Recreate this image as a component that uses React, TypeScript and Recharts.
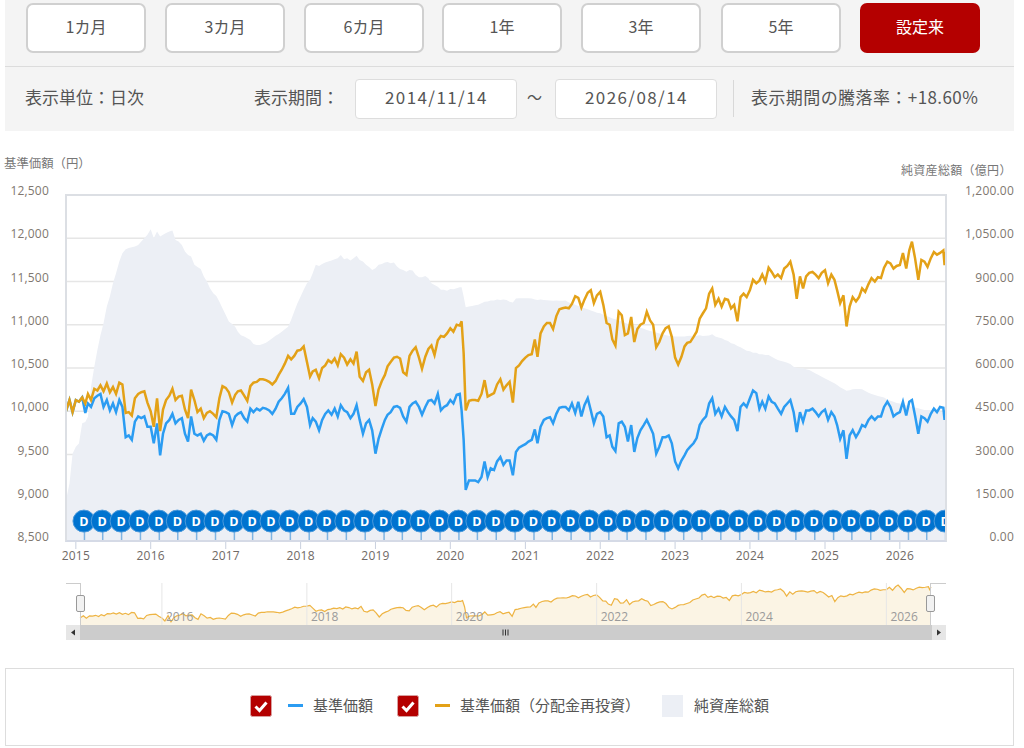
import { Area, CartesianGrid, ComposedChart, Line, ReferenceDot, ReferenceLine, XAxis, YAxis } from 'recharts'

const dates = [
  '2014-11-14', '2014-12-01', '2014-12-16',
  '2015-01-01', '2015-01-16', '2015-02-01', '2015-02-16', '2015-03-01', '2015-03-16', '2015-04-01', '2015-04-16', '2015-05-01', '2015-05-16', '2015-06-01', '2015-06-16', '2015-07-01', '2015-07-16', '2015-08-01', '2015-08-16', '2015-09-01', '2015-09-16', '2015-10-01', '2015-10-16', '2015-11-01', '2015-11-16', '2015-12-01', '2015-12-16',
  '2016-01-01', '2016-01-16', '2016-02-01', '2016-02-16', '2016-03-01', '2016-03-16', '2016-04-01', '2016-04-16', '2016-05-01', '2016-05-16', '2016-06-01', '2016-06-16', '2016-07-01', '2016-07-16', '2016-08-01', '2016-08-16', '2016-09-01', '2016-09-16', '2016-10-01', '2016-10-16', '2016-11-01', '2016-11-16', '2016-12-01', '2016-12-16',
  '2017-01-01', '2017-01-16', '2017-02-01', '2017-02-16', '2017-03-01', '2017-03-16', '2017-04-01', '2017-04-16', '2017-05-01', '2017-05-16', '2017-06-01', '2017-06-16', '2017-07-01', '2017-07-16', '2017-08-01', '2017-08-16', '2017-09-01', '2017-09-16', '2017-10-01', '2017-10-16', '2017-11-01', '2017-11-16', '2017-12-01', '2017-12-16',
  '2018-01-01', '2018-01-16', '2018-02-01', '2018-02-16', '2018-03-01', '2018-03-16', '2018-04-01', '2018-04-16', '2018-05-01', '2018-05-16', '2018-06-01', '2018-06-16', '2018-07-01', '2018-07-16', '2018-08-01', '2018-08-16', '2018-09-01', '2018-09-16', '2018-10-01', '2018-10-16', '2018-11-01', '2018-11-16', '2018-12-01', '2018-12-16',
  '2019-01-01', '2019-01-16', '2019-02-01', '2019-02-16', '2019-03-01', '2019-03-16', '2019-04-01', '2019-04-16', '2019-05-01', '2019-05-16', '2019-06-01', '2019-06-16', '2019-07-01', '2019-07-16', '2019-08-01', '2019-08-16', '2019-09-01', '2019-09-16', '2019-10-01', '2019-10-16', '2019-11-01', '2019-11-16', '2019-12-01', '2019-12-16',
  '2020-01-01', '2020-01-16', '2020-02-01', '2020-02-16', '2020-02-25', '2020-03-06', '2020-03-16', '2020-04-01', '2020-04-16', '2020-05-01', '2020-05-16', '2020-06-01', '2020-06-16', '2020-07-01', '2020-07-16', '2020-08-01', '2020-08-16', '2020-09-01', '2020-09-16', '2020-10-01', '2020-10-16', '2020-11-01', '2020-11-16', '2020-12-01', '2020-12-16',
  '2021-01-01', '2021-01-16', '2021-02-01', '2021-02-16', '2021-03-01', '2021-03-16', '2021-04-01', '2021-04-16', '2021-05-01', '2021-05-16', '2021-06-01', '2021-06-16', '2021-07-01', '2021-07-16', '2021-08-01', '2021-08-16', '2021-09-01', '2021-09-16', '2021-10-01', '2021-10-16', '2021-11-01', '2021-11-16', '2021-12-01', '2021-12-16',
  '2022-01-01', '2022-01-16', '2022-02-01', '2022-02-16', '2022-03-01', '2022-03-16', '2022-04-01', '2022-04-16', '2022-05-01', '2022-05-16', '2022-06-01', '2022-06-16', '2022-07-01', '2022-07-16', '2022-08-01', '2022-08-16', '2022-09-01', '2022-09-16', '2022-10-01', '2022-10-16', '2022-11-01', '2022-11-16', '2022-12-01', '2022-12-16',
  '2023-01-01', '2023-01-16', '2023-02-01', '2023-02-16', '2023-03-01', '2023-03-16', '2023-04-01', '2023-04-16', '2023-05-01', '2023-05-16', '2023-06-01', '2023-06-16', '2023-07-01', '2023-07-16', '2023-08-01', '2023-08-16', '2023-09-01', '2023-09-16', '2023-10-01', '2023-10-16', '2023-11-01', '2023-11-16', '2023-12-01', '2023-12-16',
  '2024-01-01', '2024-01-16', '2024-02-01', '2024-02-16', '2024-03-01', '2024-03-16', '2024-04-01', '2024-04-16', '2024-05-01', '2024-05-16', '2024-06-01', '2024-06-16', '2024-07-01', '2024-07-16', '2024-08-01', '2024-08-16', '2024-09-01', '2024-09-16', '2024-10-01', '2024-10-16', '2024-11-01', '2024-11-16', '2024-12-01', '2024-12-16',
  '2025-01-01', '2025-01-16', '2025-02-01', '2025-02-16', '2025-03-01', '2025-03-16', '2025-04-01', '2025-04-16', '2025-05-01', '2025-05-16', '2025-06-01', '2025-06-16', '2025-07-01', '2025-07-16', '2025-08-01', '2025-08-16', '2025-09-01', '2025-09-16', '2025-10-01', '2025-10-16', '2025-11-01', '2025-11-16', '2025-12-01', '2025-12-16',
  '2026-01-01', '2026-01-16', '2026-02-01', '2026-02-16', '2026-03-01', '2026-03-16', '2026-04-01', '2026-04-16', '2026-05-01', '2026-05-16', '2026-06-01', '2026-06-16', '2026-07-01', '2026-07-16', '2026-08-01', '2026-08-07', '2026-08-14',
]

const reinvested = [
  10000, 10130, 9990,
  10130, 10110, 10160, 10090, 10200, 10130, 10260, 10240, 10300, 10230, 10320, 10220, 10280, 10200, 10330, 10310, 9980, 9990, 9950, 10150, 10200, 10220, 10230, 10100,
  10000, 9820, 10150, 9770, 10020, 10130, 10180, 10260, 10130, 10170, 10180, 10020, 9920, 10250, 10130, 9990, 10030, 9920, 9980, 10000, 9970, 9930, 10150, 10290,
  10270, 10220, 10100, 10190, 10230, 10240, 10180, 10120, 10290, 10330, 10340, 10370, 10370, 10360, 10340, 10310, 10350, 10420, 10480, 10550, 10640, 10600, 10640, 10700,
  10710, 10750, 10570, 10400, 10460, 10480, 10380, 10500, 10530, 10590, 10560, 10610, 10530, 10660, 10620, 10540, 10600, 10550, 10690, 10400, 10350, 10450, 10480, 10310,
  10060, 10250, 10350, 10420, 10520, 10570, 10620, 10630, 10610, 10450, 10420, 10640, 10700, 10740, 10620, 10490, 10630, 10720, 10760, 10650, 10820, 10870, 10860, 10900,
  10960, 10920, 11000, 10990, 11040, 10670, 10010, 10120, 10130, 10130, 10120, 10200, 10360, 10170, 10190, 10210, 10310, 10370, 10250, 10300, 10340, 10100, 10500, 10530, 10580,
  10620, 10650, 10660, 10830, 10630, 10900, 10980, 11020, 11020, 10950, 11100, 11180, 11190, 11200, 11190, 11240, 11330, 11310, 11200, 11290, 11370, 11400, 11250, 11340,
  11380, 11230, 11020, 11000, 10830, 10760, 11150, 11110, 10880, 10900, 11090, 10800, 10950, 11000, 11020, 11150, 11050, 11000, 10740, 10800, 10900, 10960, 10980, 10860,
  10620, 10540, 10630, 10750, 10790, 10800, 10860, 10920, 11070, 11130, 11190, 11360, 11420, 11230, 11300, 11210, 11300, 11290, 11190, 11230, 11040, 11320, 11360, 11320,
  11400, 11520, 11480, 11510, 11580, 11500, 11660, 11610, 11550, 11580, 11540, 11650, 11680, 11730, 11580, 11300, 11560, 11420, 11560, 11600, 11610, 11580, 11540, 11600,
  11630, 11480, 11580, 11520, 11400, 11250, 11340, 10980, 11210, 11320, 11270, 11320, 11420, 11380, 11470, 11540, 11500, 11550, 11540, 11660, 11730, 11710, 11650, 11680,
  11690, 11830, 11650, 11860, 11960, 11770, 11520, 11750, 11730, 11670, 11770, 11840, 11810, 11830, 11860, 11690, 11840,
]

const navPrice = [
  10000, 10130, 9990,
  10130, 10110, 10160, 9980, 10090, 10050, 10150, 10180, 10200, 10050, 10130, 10010, 10090, 9990, 10130, 10050, 9700, 9720, 9670, 9880, 9940, 9920, 9940, 9820,
  9820, 9630, 9860, 9490, 9740, 9860, 9900, 9970, 9860, 9900, 9920, 9740, 9650, 9940, 9740, 9720, 9740, 9660, 9720, 9740, 9720, 9670, 9900, 10000,
  9990, 9970, 9840, 9940, 9970, 9990, 9920, 9880, 10030, 9990, 10030, 10010, 10040, 10030, 10010, 9970, 10030, 10110, 10150, 10200, 10270, 9970, 9970, 10050,
  10090, 10140, 10050, 9840, 9920, 9880, 9780, 9900, 9970, 10010, 9960, 10030, 9940, 10070, 10010, 9990, 9920, 9970, 10070, 9900, 9740, 9860, 9900, 9780,
  9510, 9680, 9800, 9900, 9960, 9990, 10050, 10060, 10040, 9940, 9880, 10050, 10090, 10110, 10050, 9960, 10050, 10120, 10130, 10090, 10200, 10010, 10050, 10070,
  10130, 10090, 10190, 10200, 10010, 9670, 9090, 9200, 9200, 9200, 9180, 9240, 9420, 9240, 9340, 9320, 9420, 9470, 9380, 9430, 9430, 9260, 9530, 9580, 9600,
  9620, 9650, 9670, 9790, 9630, 9820, 9900, 9920, 9930, 9860, 9970, 10040, 10050, 10050, 10010, 10090, 9980, 10110, 9940, 10070, 10150, 10010, 9860, 9970,
  9990, 9940, 9700, 9720, 9590, 9540, 9860, 9880, 9820, 9650, 9840, 9530, 9690, 9780, 9840, 9900, 9820, 9740, 9510, 9590, 9700, 9700, 9720, 9630,
  9420, 9340, 9430, 9490, 9550, 9590, 9630, 9690, 9840, 9900, 9940, 10090, 10150, 9970, 10030, 9940, 10050, 9990, 9940, 9900, 9770, 10050, 10090, 10050,
  10150, 10240, 10210, 10030, 10110, 10030, 10170, 10110, 10090, 10030, 9970, 10050, 10090, 10130, 9990, 9760, 9990, 9880, 10010, 10010, 10030, 9990, 9940, 9990,
  10020, 9900, 9990, 9940, 9840, 9680, 9780, 9450, 9720, 9780, 9700, 9760, 9840, 9820, 9900, 9940, 9900, 9940, 9940, 10050, 10110, 10050, 9940, 9970,
  9990, 10110, 9950, 10110, 10130, 9950, 9740, 9940, 9920, 9880, 9970, 10030, 9990, 10050, 10040, 9900, 10010,
]

const netAssets = [
  141, 199, 303,
  327, 338, 408, 413, 431, 535, 604, 662, 714, 755, 813, 848, 894, 929, 969, 998, 1012, 1016, 1019, 1021, 1027, 1039, 1050, 1062,
  1081, 1050, 1073, 1056, 1062, 1068, 1073, 1077, 1044, 1039, 1027, 1004, 992, 987, 958, 950, 943, 917, 900, 877, 859, 850, 830, 807,
  784, 761, 753, 743, 726, 714, 709, 703, 697, 683, 680, 680, 683, 688, 695, 703, 712, 718, 726, 734, 743, 767, 796, 824,
  848, 871, 894, 906, 929, 958, 954, 961, 966, 969, 973, 977, 981, 992, 977, 981, 973, 981, 989, 975, 969, 958, 950, 940,
  946, 958, 961, 966, 968, 963, 966, 952, 943, 940, 934, 940, 938, 923, 915, 915, 919, 911, 894, 888, 882, 871, 871, 868,
  874, 873, 877, 880, 880, 848, 811, 813, 815, 818, 819, 825, 830, 831, 834, 834, 838, 836, 838, 836, 830, 827, 841, 842, 842,
  842, 842, 841, 838, 836, 838, 836, 835, 834, 833, 834, 833, 833, 834, 827, 825, 819, 815, 811, 807, 804, 799, 796, 792,
  790, 785, 780, 776, 772, 769, 764, 761, 757, 753, 749, 746, 743, 740, 736, 732, 728, 726, 723, 720, 718, 714, 712, 711,
  709, 709, 709, 709, 711, 712, 711, 712, 714, 711, 712, 713, 717, 709, 706, 703, 697, 694, 686, 683, 676, 672, 666, 660,
  658, 653, 653, 648, 648, 645, 645, 639, 633, 628, 624, 622, 618, 614, 604, 601, 599, 599, 596, 593, 587, 581, 576, 570,
  564, 558, 552, 547, 541, 533, 527, 521, 523, 526, 527, 527, 526, 520, 514, 510, 506, 503, 500, 498, 491, 486, 483, 479,
  477, 475, 471, 468, 466, 463, 460, 457, 454, 454, 452, 452, 448, 448, 446, 445, 445,
]

const dividendDates = [
  '2015-02-12', '2015-05-12', '2015-08-12', '2015-11-12', '2016-02-12', '2016-05-12', '2016-08-12', '2016-11-12',
  '2017-02-12', '2017-05-12', '2017-08-12', '2017-11-12', '2018-02-12', '2018-05-12', '2018-08-12', '2018-11-12',
  '2019-02-12', '2019-05-12', '2019-08-12', '2019-11-12', '2020-02-12', '2020-05-12', '2020-08-12', '2020-11-12',
  '2021-02-12', '2021-05-12', '2021-08-12', '2021-11-12', '2022-02-12', '2022-05-12', '2022-08-12', '2022-11-12',
  '2023-02-12', '2023-05-12', '2023-08-12', '2023-11-12', '2024-02-12', '2024-05-12', '2024-08-12', '2024-11-12',
  '2025-02-12', '2025-05-12', '2025-08-12', '2025-11-12', '2026-02-12', '2026-05-12', '2026-08-12',
]

const yearTicks = ['2015-01-01', '2016-01-01', '2017-01-01', '2018-01-01', '2019-01-01', '2020-01-01', '2021-01-01', '2022-01-01', '2023-01-01', '2024-01-01', '2025-01-01', '2026-01-01']
const overviewTicks = ['2016-01-01', '2018-01-01', '2020-01-01', '2022-01-01', '2024-01-01', '2026-01-01']
const priceTicks = [8500, 9000, 9500, 10000, 10500, 11000, 11500, 12000, 12500]
const assetTicks = [0, 150, 300, 450, 600, 750, 900, 1050, 1200]
const periodButtons = ['1カ月', '3カ月', '6カ月', '1年', '3年', '5年', '設定来']

const toTime = (d: string) => new Date(d + 'T00:00:00Z').getTime()
const rows = dates.map((d, i) => ({
  t: toTime(d),
  nav: navPrice[i],
  reinvest: reinvested[i],
  assets: netAssets[i],
}))
const xDomain = [rows[0].t, rows[rows.length - 1].t]

const JP = '"Noto Sans CJK JP", "Noto Sans", sans-serif'
const LATIN = '"Open Sans", "Noto Sans CJK JP", sans-serif'
const TEXT = '#555555'
const RED = '#b40000'
const BLUE = '#2b9cf2'
const GOLD = '#e3a117'
const AREA = '#eceff5'

function PriceTick({ y, payload }: any) {
  return (
    <text x={49} y={y} textAnchor="end" fontSize={12} fontFamily={LATIN} letterSpacing={0.2} fill="#80776f">
      {payload.value.toLocaleString('en-US')}
    </text>
  )
}

function AssetTick({ y, payload }: any) {
  const label = payload.value.toLocaleString('en-US', { minimumFractionDigits: 2 })
  return (
    <text x={1014} y={y} textAnchor="end" fontSize={12} fontFamily={LATIN} letterSpacing={0.2} fill="#80776f">
      {label}
    </text>
  )
}

function YearTick({ x, y, payload }: any) {
  return (
    <text x={x} y={y + 9} textAnchor="middle" fontSize={12} fontFamily={LATIN} letterSpacing={0.2} fill="#706a66">
      {new Date(payload.value).getUTCFullYear()}
    </text>
  )
}

function DividendFlag({ cx, cy }: any) {
  return (
    <g clipPath="url(#plotClip)">
      <line x1={cx} y1={cy + 10} x2={cx} y2={541} stroke="#7fb4e2" strokeWidth={1.5} />
      <circle cx={cx - 0.5} cy={cy} r={11} fill="#0073cf" stroke="#4d9bdc" strokeWidth={1} />
      <text x={cx - 0.5} y={cy + 4.5} textAnchor="middle" fontSize={12.5} fontWeight={700} fontFamily={LATIN} fill="#ffffff">D</text>
    </g>
  )
}

function CheckBox({ left }: { left: number }) {
  return (
    <svg style={{ position: 'absolute', left, top: 695 }} width={22} height={22}>
      <rect x={0.5} y={0.5} width={21} height={21} rx={2} fill={RED} stroke="#d9a0a0" />
      <path d="M5.5 11.5 L9.5 15.5 L16.5 7.5" fill="none" stroke="#ffffff" strokeWidth={3} />
    </svg>
  )
}

function Label({ left, top, size = 17, color = TEXT, children, spacing = 0 }: any) {
  return (
    <div style={{ position: 'absolute', left, top, fontSize: size, color, fontFamily: JP, lineHeight: '20px', whiteSpace: 'nowrap', letterSpacing: spacing }}>
      {children}
    </div>
  )
}

function Box({ left, top, width, height, style }: any) {
  return <div style={{ position: 'absolute', left, top, width, height, boxSizing: 'border-box', ...style }} />
}

export default function App() {
  const buttonLefts = [26, 165, 304, 442, 581, 721, 860]
  return (
    <div style={{ position: 'absolute', left: 0, top: 0, width: 1024, height: 748, overflow: 'hidden', background: '#ffffff' }}>
      {/* period selector */}
      <Box left={5} top={0} width={1009} height={131} style={{ background: '#f4f4f4' }} />
      <Box left={5} top={66} width={1009} height={1} style={{ background: '#dcdcdc' }} />
      {periodButtons.map((b, i) => {
        const active = i === periodButtons.length - 1
        return (
          <div
            key={b}
            style={{
              position: 'absolute', left: buttonLefts[i], top: 3, width: 120, height: 50, boxSizing: 'border-box',
              background: active ? RED : '#ffffff', border: active ? 'none' : '2px solid #d0d0d0', borderRadius: 7,
              color: active ? '#ffffff' : TEXT, fontFamily: JP, fontSize: 16, lineHeight: active ? '47px' : '43px', textAlign: 'center',
            }}
          >
            {b}
          </div>
        )
      })}
      <Label left={25} top={87}>表示単位：日次</Label>
      <Label left={254} top={87}>表示期間：</Label>
      <Box left={355} top={79} width={162} height={40} style={{ background: '#fff', border: '1px solid #dddddd', borderRadius: 4 }} />
      <Box left={555} top={79} width={162} height={40} style={{ background: '#fff', border: '1px solid #dddddd', borderRadius: 4 }} />
      <Label left={385} top={87} spacing={1.4}>2014/11/14</Label>
      <Label left={527} top={87} size={15}>〜</Label>
      <Label left={585} top={87} spacing={1.4}>2026/08/14</Label>
      <Box left={733} top={80} width={1} height={37} style={{ background: '#d8d8d8' }} />
      <Label left={751} top={87} spacing={0.42}>表示期間の騰落率：+18.60%</Label>

      <Label left={4} top={153} size={12.4} color="#777777">基準価額（円）</Label>
      <Label left={901} top={160} size={12} spacing={0.3} color="#777777">純資産総額（億円）</Label>

      {/* main chart */}
      <div style={{ position: 'absolute', left: 0, top: 0 }}>
        <ComposedChart width={1024} height={570} data={rows} margin={{ top: 195, right: 0, bottom: 0, left: 16 }}>
          <defs>
            <clipPath id="plotClip">
              <rect x={66} y={195} width={880} height={346} />
            </clipPath>
          </defs>
          <CartesianGrid yAxisId="price" vertical={false} stroke="#e6e6e6" strokeWidth={1.5} />
          <XAxis
            dataKey="t" type="number" domain={xDomain} ticks={yearTicks.map(toTime)} height={29} interval={0}
            tick={<YearTick />} tickSize={8} stroke="#c9d0de" allowDataOverflow
          />
          <YAxis yAxisId="price" domain={[8500, 12500]} ticks={priceTicks} width={50} tick={<PriceTick />} tickLine={false} axisLine={false} />
          <YAxis yAxisId="assets" orientation="right" domain={[0, 1200]} ticks={assetTicks} width={78} tick={<AssetTick />} tickLine={false} axisLine={false} />
          <Area yAxisId="assets" dataKey="assets" type="linear" stroke="none" fill={AREA} fillOpacity={1} isAnimationActive={false} />
          {dividendDates.map((d) => (
            <ReferenceDot key={d} yAxisId="price" x={toTime(d)} y={8730} shape={<DividendFlag />} ifOverflow="visible" />
          ))}
          <Line yAxisId="price" dataKey="nav" type="linear" stroke={BLUE} strokeWidth={2.5} dot={false} isAnimationActive={false} />
          <Line yAxisId="price" dataKey="reinvest" type="linear" stroke={GOLD} strokeWidth={2.5} dot={false} isAnimationActive={false} />
        </ComposedChart>
      </div>
      {/* plot frame */}
      <Box left={65} top={194} width={882} height={348} style={{ border: '2px solid #dcdfe4', borderBottomColor: '#d5dae6', pointerEvents: 'none' }} />

      {/* overview strip */}
      <div style={{ position: 'absolute', left: 0, top: 583 }}>
        <ComposedChart width={1024} height={42} data={rows} margin={{ top: 0, right: 93, bottom: 0, left: 80 }}>
          <XAxis dataKey="t" type="number" domain={xDomain} hide />
          <YAxis domain={[9583, 12083]} hide />
          <Area dataKey="reinvest" type="linear" stroke="#eeb443" strokeWidth={1.2} fill="#fbf4e4" fillOpacity={1} isAnimationActive={false} />
          {overviewTicks.map((d) => (
            <ReferenceLine
              key={d} x={toTime(d)} stroke="#e6e6e6"
              label={{ value: d.slice(0, 4), position: 'insideBottomLeft', fill: '#9a9a9a', fontSize: 12, fontFamily: LATIN, offset: 4 }}
            />
          ))}
        </ComposedChart>
      </div>
      <Box left={66} top={583} width={15} height={42} style={{ borderTop: '1px solid #cccccc', borderRight: '1px solid #cccccc' }} />
      <Box left={930} top={583} width={16} height={42} style={{ borderTop: '1px solid #cccccc', borderLeft: '1px solid #cccccc' }} />
      <Box left={76} top={595} width={9} height={17} style={{ background: '#f2f2f2', border: '1px solid #999999', borderRadius: 2 }} />
      <Box left={926} top={595} width={9} height={17} style={{ background: '#f2f2f2', border: '1px solid #999999', borderRadius: 2 }} />

      {/* scrollbar */}
      <Box left={66} top={625} width={880} height={15} style={{ background: '#cccccc' }} />
      <Box left={66} top={625} width={14} height={15} style={{ background: '#e6e6e6' }} />
      <Box left={932} top={625} width={14} height={15} style={{ background: '#e6e6e6' }} />
      <svg style={{ position: 'absolute', left: 66, top: 625 }} width={880} height={15}>
        <path d="M5 7.5 L9 4.5 L9 10.5 Z" fill="#333333" />
        <path d="M875 7.5 L871 4.5 L871 10.5 Z" fill="#333333" />
        <path d="M437 4.5 V10.5 M439.5 4.5 V10.5 M442 4.5 V10.5" stroke="#333333" strokeWidth={1} />
      </svg>

      {/* legend */}
      <Box left={5} top={668} width={1009} height={78} style={{ border: '1px solid #dddddd' }} />
      <CheckBox left={250} />
      <Box left={288} top={704} width={15} height={3} style={{ background: BLUE }} />
      <Label left={313} top={695} size={15}>基準価額</Label>
      <CheckBox left={397} />
      <Box left={435} top={704} width={15} height={3} style={{ background: GOLD }} />
      <Label left={460} top={695} size={15}>基準価額（分配金再投資）</Label>
      <Box left={662} top={695} width={21} height={22} style={{ background: AREA }} />
      <Label left={694} top={695} size={15}>純資産総額</Label>
    </div>
  )
}
